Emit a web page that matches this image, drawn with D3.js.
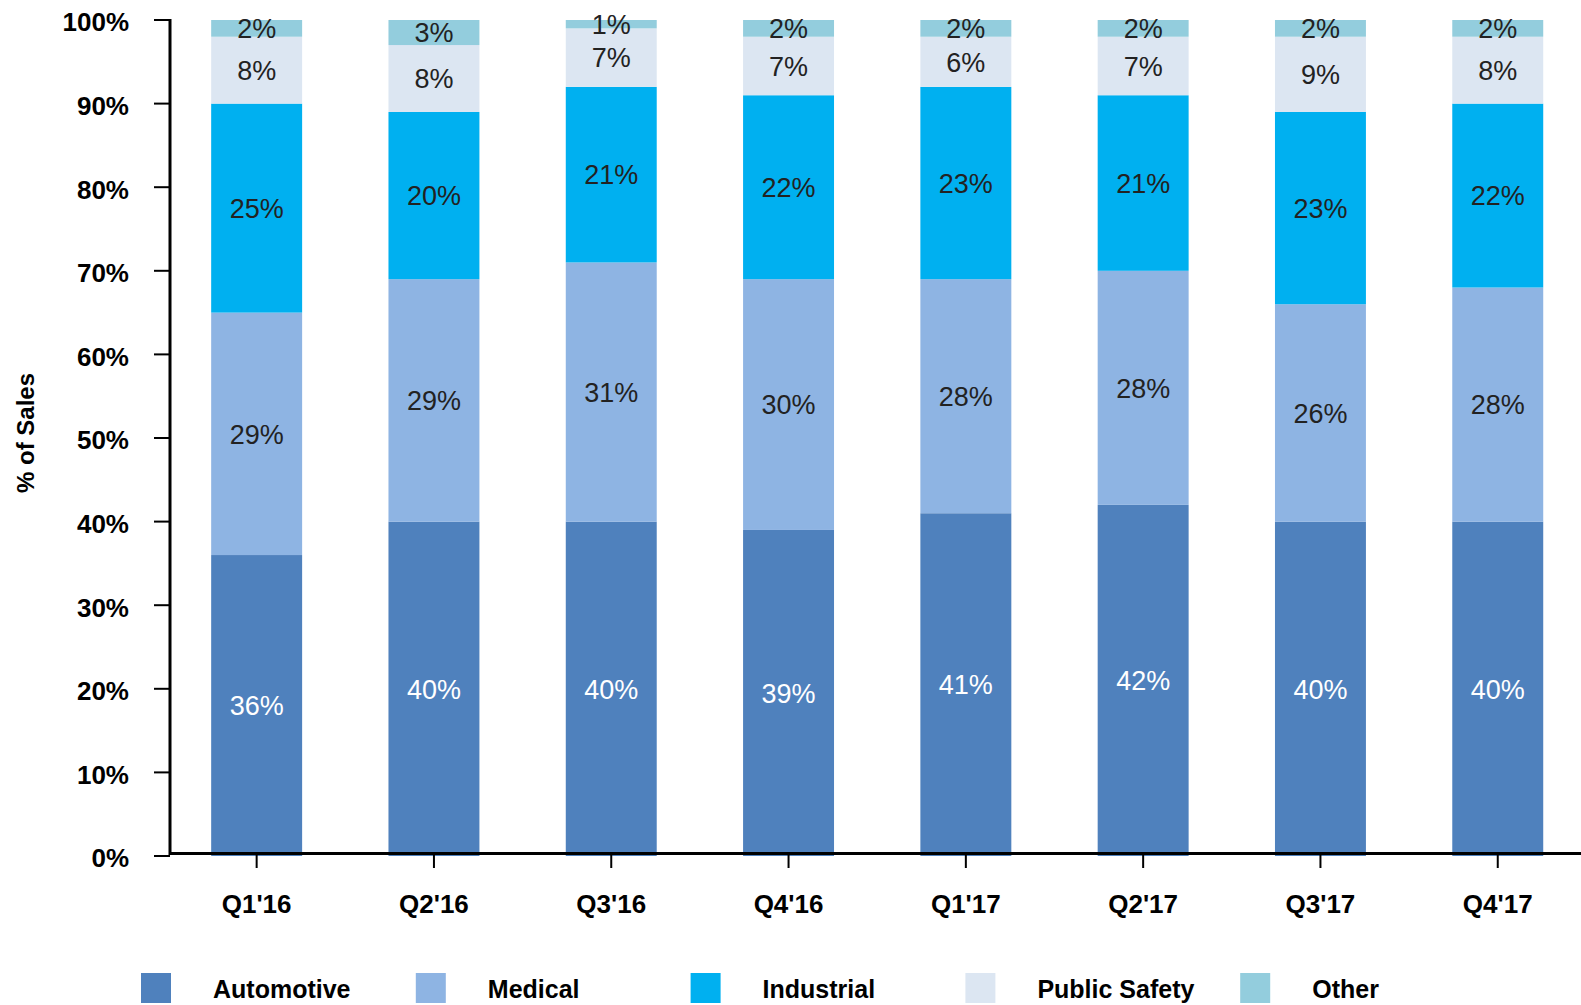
<!DOCTYPE html>
<html>
<head>
<meta charset="utf-8">
<script src="https://cdn.jsdelivr.net/npm/d3@7"></script>
<style>
  body { margin: 0; background: #fff; }
  svg { display: block; font-family: "Liberation Sans", Arial, sans-serif; }
</style>
</head>
<body>
<svg id="chart" width="1581" height="1005"></svg>
<script>
// quarters and series shares (% of sales)
var quarters = ["Q1'16", "Q2'16", "Q3'16", "Q4'16", "Q1'17", "Q2'17", "Q3'17", "Q4'17"]
var seriesNames = ["Automotive", "Medical", "Industrial", "Public Safety", "Other"]
var automotive = [36, 40, 40, 39, 41, 42, 40, 40]
var medical = [29, 29, 31, 30, 28, 28, 26, 28]
var industrial = [25, 20, 21, 22, 23, 21, 23, 22]
var publicSafety = [8, 8, 7, 7, 6, 7, 9, 8]
var other = [2, 3, 1, 2, 2, 2, 2, 2]
var yTicks = [0, 10, 20, 30, 40, 50, 60, 70, 80, 90, 100]

var colors = ["#4F81BD", "#8EB4E3", "#00B0F0", "#DCE6F2", "#93CDDD"]
var labelColors = ["#fff", "#222", "#222", "#222", "#222"]

var seriesValues = [automotive, medical, industrial, publicSafety, other]
var rows = quarters.map(function(q, i){
  var r = {quarter: q}
  seriesNames.forEach(function(s, j){ r[s] = seriesValues[j][i] })
  return r
})

var svg = d3.select('#chart')
var x0 = 168, axisX = 170, yBottom = 856, yTop = 20

var x = d3.scaleBand()
    .domain(quarters)
    .range([x0, x0 + 8 * 177.3])
    .paddingInner(0.487)
    .paddingOuter(0.2435)
var y = d3.scaleLinear()
    .domain([0, 100])
    .range([yBottom, yTop])

var stack = d3.stack().keys(seriesNames)
var layers = stack(rows)

var groups = svg.selectAll('g.layer')
    .data(layers)
    .enter().append('g')
    .attr('class', 'layer')
    .attr('fill', function(d, i){ return colors[i] })

groups.selectAll('rect')
    .data(function(d){ return d })
    .enter().append('rect')
    .attr('x', function(d){ return x(d.data.quarter) })
    .attr('width', x.bandwidth())
    .attr('y', function(d){ return y(d[1]) })
    .attr('height', function(d){ return y(d[0]) - y(d[1]) })

// value labels
layers.forEach(function(layer, li){
  svg.append('g').selectAll('text')
    .data(layer)
    .enter().append('text')
    .attr('x', function(d){ return x(d.data.quarter) + x.bandwidth() / 2 })
    .attr('y', function(d){ return y((d[0] + d[1]) / 2) })
    .attr('dy', '0.36em')
    .attr('text-anchor', 'middle')
    .attr('font-size', 27)
    .attr('fill', labelColors[li])
    .text(function(d){ return (d[1] - d[0]) + '%' })
})

// y axis
var yAxis = svg.append('g')
yAxis.append('line')
    .attr('x1', axisX).attr('x2', axisX)
    .attr('y1', yTop - 1).attr('y2', yBottom - 1)
    .attr('stroke', '#000').attr('stroke-width', 3)
yAxis.selectAll('line.tick')
    .data(yTicks)
    .enter().append('line')
    .attr('class', 'tick')
    .attr('x1', 154).attr('x2', axisX)
    .attr('y1', function(d){ return y(d) }).attr('y2', function(d){ return y(d) })
    .attr('stroke', '#000').attr('stroke-width', 2)
yAxis.selectAll('text')
    .data(yTicks)
    .enter().append('text')
    .attr('x', 129)
    .attr('y', function(d){ return y(d) + 2 })
    .attr('dy', '0.36em')
    .attr('text-anchor', 'end')
    .attr('font-size', 26)
    .attr('font-weight', 'bold')
    .text(function(d){ return d + '%' })

svg.append('text')
    .attr('transform', 'translate(34,' + 433 + ') rotate(-90)')
    .attr('text-anchor', 'middle')
    .attr('font-size', 24)
    .attr('font-weight', 'bold')
    .text('% of Sales')

// x axis
var xAxis = svg.append('g')
xAxis.append('line')
    .attr('x1', axisX - 1).attr('x2', 1581)
    .attr('y1', yBottom - 2.5).attr('y2', yBottom - 2.5)
    .attr('stroke', '#000').attr('stroke-width', 3)
xAxis.selectAll('line.tick')
    .data(quarters)
    .enter().append('line')
    .attr('class', 'tick')
    .attr('x1', function(d){ return x(d) + x.bandwidth() / 2 })
    .attr('x2', function(d){ return x(d) + x.bandwidth() / 2 })
    .attr('y1', yBottom - 2).attr('y2', 868)
    .attr('stroke', '#000').attr('stroke-width', 2)
xAxis.selectAll('text')
    .data(quarters)
    .enter().append('text')
    .attr('x', function(d){ return x(d) + x.bandwidth() / 2 })
    .attr('y', 913)
    .attr('text-anchor', 'middle')
    .attr('font-size', 26)
    .attr('font-weight', 'bold')
    .text(function(d){ return d })

// legend
var legend = svg.append('g').selectAll('g')
    .data(seriesNames)
    .enter().append('g')
    .attr('transform', function(d, i){ return 'translate(' + (141 + i * 274.8) + ',973)' })
legend.append('rect')
    .attr('width', 30).attr('height', 30)
    .attr('fill', function(d, i){ return colors[i] })
legend.append('text')
    .attr('x', 72)
    .attr('y', 25)
    .attr('font-size', 25)
    .attr('font-weight', 'bold')
    .text(function(d){ return d })
</script>
</body>
</html>
